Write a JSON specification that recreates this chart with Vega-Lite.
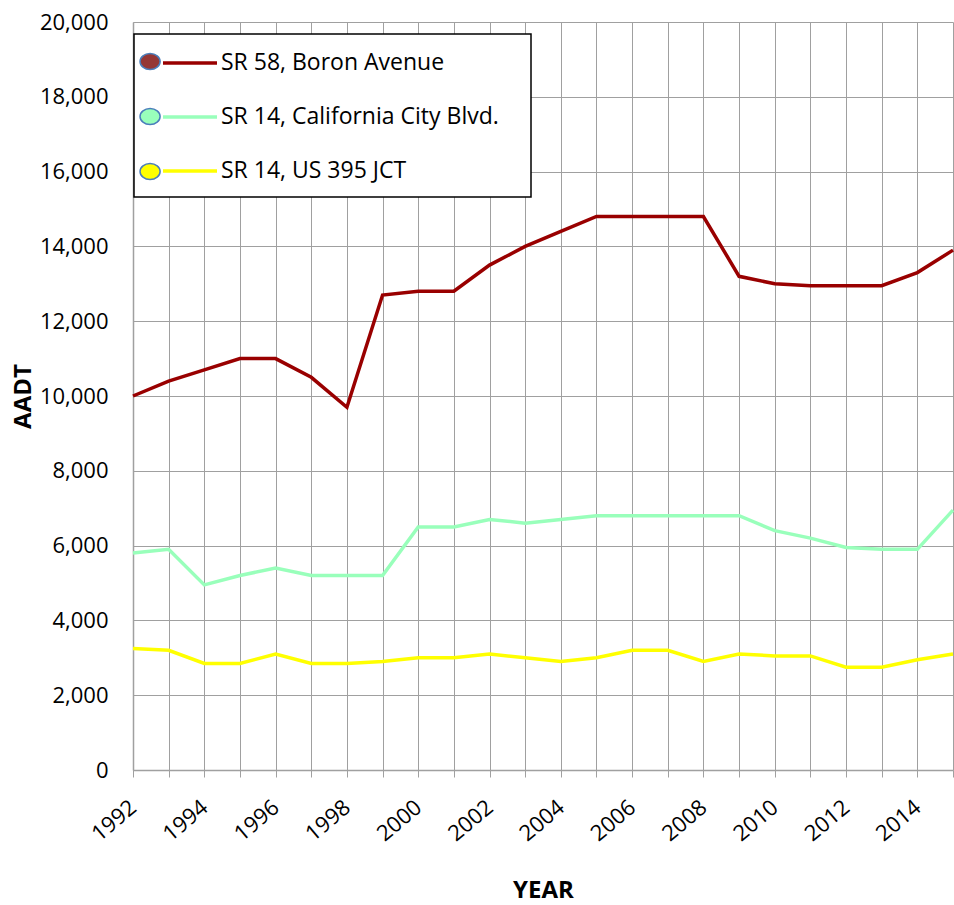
{
  "$schema": "https://vega.github.io/schema/vega-lite/v6.json",
  "width": 820,
  "height": 748,
  "autosize": {"type": "none"},
  "padding": {"left": 133, "top": 22, "right": 1, "bottom": 135},
  "background": "white",
  "config": {
    "font": "Open Sans",
    "view": {"stroke": null},
    "axis": {"labelFont": "Open Sans", "titleFont": "Open Sans", "labelColor": "black", "titleColor": "black"},
    "legend": {"labelFont": "Open Sans"}
  },
  "datasets": {
    "traffic": [
      {"year": 1992, "series": "SR 58, Boron Avenue", "aadt": 10000},
      {"year": 1993, "series": "SR 58, Boron Avenue", "aadt": 10400},
      {"year": 1994, "series": "SR 58, Boron Avenue", "aadt": 10700},
      {"year": 1995, "series": "SR 58, Boron Avenue", "aadt": 11000},
      {"year": 1996, "series": "SR 58, Boron Avenue", "aadt": 11000},
      {"year": 1997, "series": "SR 58, Boron Avenue", "aadt": 10500},
      {"year": 1998, "series": "SR 58, Boron Avenue", "aadt": 9700},
      {"year": 1999, "series": "SR 58, Boron Avenue", "aadt": 12700},
      {"year": 2000, "series": "SR 58, Boron Avenue", "aadt": 12800},
      {"year": 2001, "series": "SR 58, Boron Avenue", "aadt": 12800},
      {"year": 2002, "series": "SR 58, Boron Avenue", "aadt": 13500},
      {"year": 2003, "series": "SR 58, Boron Avenue", "aadt": 14000},
      {"year": 2004, "series": "SR 58, Boron Avenue", "aadt": 14400},
      {"year": 2005, "series": "SR 58, Boron Avenue", "aadt": 14800},
      {"year": 2006, "series": "SR 58, Boron Avenue", "aadt": 14800},
      {"year": 2007, "series": "SR 58, Boron Avenue", "aadt": 14800},
      {"year": 2008, "series": "SR 58, Boron Avenue", "aadt": 14800},
      {"year": 2009, "series": "SR 58, Boron Avenue", "aadt": 13200},
      {"year": 2010, "series": "SR 58, Boron Avenue", "aadt": 13000},
      {"year": 2011, "series": "SR 58, Boron Avenue", "aadt": 12950},
      {"year": 2012, "series": "SR 58, Boron Avenue", "aadt": 12950},
      {"year": 2013, "series": "SR 58, Boron Avenue", "aadt": 12950},
      {"year": 2014, "series": "SR 58, Boron Avenue", "aadt": 13300},
      {"year": 2015, "series": "SR 58, Boron Avenue", "aadt": 13900},
      {"year": 1992, "series": "SR 14, California City Blvd.", "aadt": 5800},
      {"year": 1993, "series": "SR 14, California City Blvd.", "aadt": 5900},
      {"year": 1994, "series": "SR 14, California City Blvd.", "aadt": 4950},
      {"year": 1995, "series": "SR 14, California City Blvd.", "aadt": 5200},
      {"year": 1996, "series": "SR 14, California City Blvd.", "aadt": 5400},
      {"year": 1997, "series": "SR 14, California City Blvd.", "aadt": 5200},
      {"year": 1998, "series": "SR 14, California City Blvd.", "aadt": 5200},
      {"year": 1999, "series": "SR 14, California City Blvd.", "aadt": 5200},
      {"year": 2000, "series": "SR 14, California City Blvd.", "aadt": 6500},
      {"year": 2001, "series": "SR 14, California City Blvd.", "aadt": 6500},
      {"year": 2002, "series": "SR 14, California City Blvd.", "aadt": 6700},
      {"year": 2003, "series": "SR 14, California City Blvd.", "aadt": 6600},
      {"year": 2004, "series": "SR 14, California City Blvd.", "aadt": 6700},
      {"year": 2005, "series": "SR 14, California City Blvd.", "aadt": 6800},
      {"year": 2006, "series": "SR 14, California City Blvd.", "aadt": 6800},
      {"year": 2007, "series": "SR 14, California City Blvd.", "aadt": 6800},
      {"year": 2008, "series": "SR 14, California City Blvd.", "aadt": 6800},
      {"year": 2009, "series": "SR 14, California City Blvd.", "aadt": 6800},
      {"year": 2010, "series": "SR 14, California City Blvd.", "aadt": 6400},
      {"year": 2011, "series": "SR 14, California City Blvd.", "aadt": 6200},
      {"year": 2012, "series": "SR 14, California City Blvd.", "aadt": 5950},
      {"year": 2013, "series": "SR 14, California City Blvd.", "aadt": 5900},
      {"year": 2014, "series": "SR 14, California City Blvd.", "aadt": 5900},
      {"year": 2015, "series": "SR 14, California City Blvd.", "aadt": 6950},
      {"year": 1992, "series": "SR 14, US 395 JCT", "aadt": 3250},
      {"year": 1993, "series": "SR 14, US 395 JCT", "aadt": 3200},
      {"year": 1994, "series": "SR 14, US 395 JCT", "aadt": 2850},
      {"year": 1995, "series": "SR 14, US 395 JCT", "aadt": 2850},
      {"year": 1996, "series": "SR 14, US 395 JCT", "aadt": 3100},
      {"year": 1997, "series": "SR 14, US 395 JCT", "aadt": 2850},
      {"year": 1998, "series": "SR 14, US 395 JCT", "aadt": 2850},
      {"year": 1999, "series": "SR 14, US 395 JCT", "aadt": 2900},
      {"year": 2000, "series": "SR 14, US 395 JCT", "aadt": 3000},
      {"year": 2001, "series": "SR 14, US 395 JCT", "aadt": 3000},
      {"year": 2002, "series": "SR 14, US 395 JCT", "aadt": 3100},
      {"year": 2003, "series": "SR 14, US 395 JCT", "aadt": 3000},
      {"year": 2004, "series": "SR 14, US 395 JCT", "aadt": 2900},
      {"year": 2005, "series": "SR 14, US 395 JCT", "aadt": 3000},
      {"year": 2006, "series": "SR 14, US 395 JCT", "aadt": 3200},
      {"year": 2007, "series": "SR 14, US 395 JCT", "aadt": 3200},
      {"year": 2008, "series": "SR 14, US 395 JCT", "aadt": 2900},
      {"year": 2009, "series": "SR 14, US 395 JCT", "aadt": 3100},
      {"year": 2010, "series": "SR 14, US 395 JCT", "aadt": 3050},
      {"year": 2011, "series": "SR 14, US 395 JCT", "aadt": 3050},
      {"year": 2012, "series": "SR 14, US 395 JCT", "aadt": 2750},
      {"year": 2013, "series": "SR 14, US 395 JCT", "aadt": 2750},
      {"year": 2014, "series": "SR 14, US 395 JCT", "aadt": 2950},
      {"year": 2015, "series": "SR 14, US 395 JCT", "aadt": 3100}
    ],
    "routes": [
      {"route": "SR 58, Boron Avenue"},
      {"route": "SR 14, California City Blvd."},
      {"route": "SR 14, US 395 JCT"}
    ]
  },
  "layer": [
    {
      "data": {"name": "traffic"},
      "mark": {"type": "line", "strokeWidth": 3.5},
      "encoding": {
        "x": {
          "field": "year",
          "type": "quantitative",
          "scale": {"domain": [1992, 2015], "nice": false, "zero": false},
          "axis": {
            "title": "YEAR",
            "titleFontSize": 24,
            "titleFontWeight": "bold",
            "titleBaseline": "alphabetic",
            "titleY": 127,
            "values": [1992, 1993, 1994, 1995, 1996, 1997, 1998, 1999, 2000, 2001, 2002, 2003, 2004, 2005, 2006, 2007, 2008, 2009, 2010, 2011, 2012, 2013, 2014, 2015],
            "labelExpr": "datum.value % 2 == 0 ? '' + datum.value : ''",
            "labelAngle": -40,
            "labelAlign": "right",
            "labelBaseline": "middle",
            "labelPadding": 27,
            "labelDx": -3,
            "labelFontSize": 22,
            "labelOverlap": false,
            "labelFlush": false,
            "labelBound": false,
            "grid": true,
            "gridColor": "#a0a0a0",
            "gridWidth": 1,
            "gridOpacity": 1,
            "domainColor": "#a0a0a0",
            "domainWidth": 1.5,
            "ticks": true,
            "tickSize": 7,
            "tickColor": "#a0a0a0",
            "tickWidth": 1
          }
        },
        "y": {
          "field": "aadt",
          "type": "quantitative",
          "scale": {"domain": [0, 20000], "nice": false},
          "axis": {
            "title": "AADT",
            "titleFontSize": 24,
            "titleFontWeight": "bold",
            "titleBaseline": "alphabetic",
            "titleX": -103,
            "values": [0, 2000, 4000, 6000, 8000, 10000, 12000, 14000, 16000, 18000, 20000],
            "format": ",d",
            "labelFontSize": 22,
            "labelPadding": 25,
            "ticks": false,
            "grid": true,
            "gridColor": "#a0a0a0",
            "gridWidth": 1,
            "gridOpacity": 1,
            "domainColor": "#a0a0a0",
            "domainWidth": 1.5
          }
        },
        "color": {
          "field": "series",
          "type": "nominal",
          "scale": {
            "domain": ["SR 58, Boron Avenue", "SR 14, California City Blvd.", "SR 14, US 395 JCT"],
            "range": ["#990000", "#99ffbb", "#ffff00"]
          },
          "legend": {
            "title": null,
            "orient": "none",
            "legendX": 28,
            "legendY": 12,
            "padding": 0,
            "symbolType": "stroke",
            "symbolSize": 2916,
            "symbolStrokeWidth": 3.5,
            "labelFontSize": 23,
            "labelColor": "black",
            "labelOffset": 2,
            "labelLimit": 400,
            "rowPadding": 13,
            "zindex": 2
          }
        }
      }
    },
    {
      "data": {"name": "routes"},
      "mark": {"type": "point", "filled": true, "opacity": 0},
      "encoding": {
        "fill": {
          "field": "route",
          "type": "nominal",
          "sort": null,
          "scale": {"range": ["#953735", "#99ffbb", "#ffff00"]},
          "legend": {
            "title": null,
            "orient": "none",
            "legendX": 1,
            "legendY": 12,
            "padding": 14,
            "symbolType": "M -1.69,0 A 0.79,0.63 0 1,1 -0.11,0 A 0.79,0.63 0 1,1 -1.69,0 Z",
            "symbolSize": 645,
            "symbolStrokeColor": "#4a7ebb",
            "symbolStrokeWidth": 1.5,
            "symbolOpacity": 1,
            "labelExpr": "' '",
            "labelFontSize": 22,
            "labelOffset": 342,
            "rowPadding": 30,
            "strokeColor": "black",
            "fillColor": "white",
            "zindex": 1,
            "encode": {
              "legend": {"update": {"strokeWidth": {"value": 1.5}}}
            }
          }
        }
      }
    }
  ]
}
